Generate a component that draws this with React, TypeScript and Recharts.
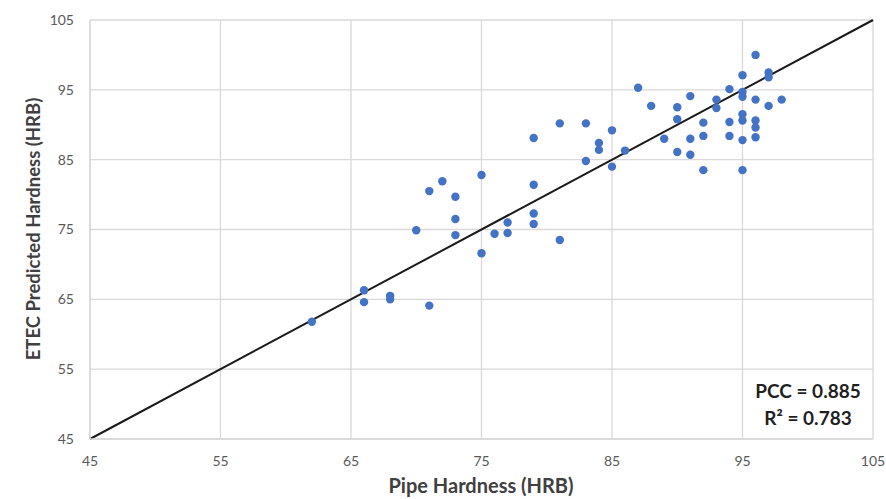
import React from 'react';
import { ScatterChart, Scatter, XAxis, YAxis, CartesianGrid, ReferenceLine } from 'recharts';

const pipeHardness = [
    62, 66, 66, 68, 68, 71, 70, 71, 72, 73, 73, 73, 75, 75, 76, 77, 77, 79, 79, 79, 79, 81, 81,
    83, 83, 84, 84, 85, 85, 86, 87, 88, 89, 90, 90, 90, 91, 91, 91, 92, 92, 92, 93, 93, 94, 94, 94,
    95, 95, 95, 95, 95, 95, 95, 96, 96, 96, 96, 96, 97, 97, 97, 98,
];
const predictedHardness = [
    61.8, 66.3, 64.6, 65.5, 65.0, 64.1, 74.9, 80.5, 81.9, 79.7, 76.5, 74.2, 82.8, 71.6, 74.4, 76.0, 74.5, 88.1, 81.4, 77.3, 75.8, 90.2, 73.5,
    90.2, 84.8, 87.4, 86.4, 89.2, 84.0, 86.3, 95.3, 92.7, 88.0, 92.5, 90.8, 86.1, 94.1, 88.0, 85.7, 90.3, 88.4, 83.5, 93.6, 92.4, 95.1, 90.4, 88.4,
    97.1, 94.7, 94.0, 91.5, 90.6, 87.8, 83.5, 100.0, 93.6, 90.6, 89.6, 88.2, 97.5, 96.8, 92.7, 93.6,
];
const axisTicks = [45, 55, 65, 75, 85, 95, 105];
const statLines = ['PCC = 0.885', 'R² = 0.783'];

const points = pipeHardness.map((x, i) => ({ x, y: predictedHardness[i] }));

const font = 'Lato, "Noto Sans", sans-serif';
const gridColor = '#d9d9d9';
const tickStyle = { fontSize: 14, fill: '#595959', fontFamily: font };

export default function App() {
    return (
        <div style={{ position: 'absolute', left: 0, top: 0, width: 886, height: 499, background: '#fff' }}>
            <ScatterChart width={886} height={499} margin={{ top: 20, right: 13, left: 40, bottom: 30 }}>
                <CartesianGrid stroke={gridColor} strokeWidth={1.3} />
                <XAxis
                    type="number"
                    dataKey="x"
                    domain={[45, 105]}
                    ticks={axisTicks}
                    height={30}
                    tickSize={0}
                    tickMargin={17}
                    tickLine={false}
                    axisLine={{ stroke: gridColor, strokeWidth: 1.3 }}
                    tick={tickStyle}
                    allowDataOverflow
                />
                <YAxis
                    type="number"
                    dataKey="y"
                    domain={[45, 105]}
                    ticks={axisTicks}
                    width={50}
                    tickSize={0}
                    tickMargin={16}
                    tickLine={false}
                    axisLine={{ stroke: gridColor, strokeWidth: 1.3 }}
                    tick={tickStyle}
                    allowDataOverflow
                />
                <ReferenceLine
                    segment={[{ x: 45, y: 45 }, { x: 105, y: 105 }]}
                    stroke="#1a1a1a"
                    strokeWidth={2}
                    ifOverflow="visible"
                />
                <Scatter
                    data={points}
                    fill="#4472c4"
                    isAnimationActive={false}
                    shape={(p: any) => <circle cx={p.cx} cy={p.cy} r={4.2} fill="#4472c4" />}
                />
            </ScatterChart>
            {/* axis titles and stats box */}
            <svg width={886} height={499} style={{ position: 'absolute', left: 0, top: 0, pointerEvents: 'none' }}>
                <text
                    x={40}
                    y={229}
                    transform="rotate(-90 40 229)"
                    textAnchor="middle"
                    fontFamily={font}
                    fontWeight={700}
                    fontSize={18.5}
                    fill="#404040"
                >
                    ETEC Predicted Hardness (HRB)
                </text>
                <text x={481} y={493} textAnchor="middle" fontFamily={font} fontWeight={700} fontSize={20} fill="#404040">
                    Pipe Hardness (HRB)
                </text>
                {statLines.map((s, i) => (
                    <text key={s} x={808} y={398 + i * 27} textAnchor="middle" fontFamily={font} fontWeight={700} fontSize={19} fill="#1f1f1f">
                        {s}
                    </text>
                ))}
            </svg>
        </div>
    );
}
